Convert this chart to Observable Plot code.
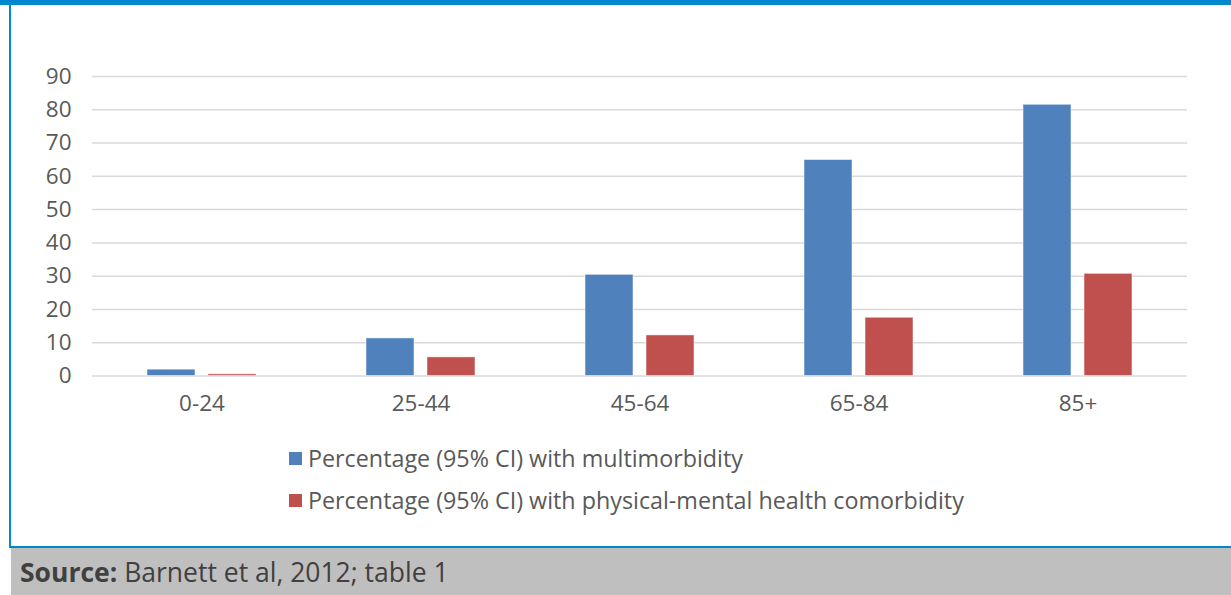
<!DOCTYPE html>
<html>
<head>
<meta charset="utf-8">
<script src="https://cdn.jsdelivr.net/npm/d3@7"></script>
<script src="https://cdn.jsdelivr.net/npm/@observablehq/plot@0.6"></script>
<style>
  html, body { margin: 0; padding: 0; background: #fff; }
  #wrap { position: relative; width: 1231px; height: 595px; overflow: hidden; font-family: "Open Sans", sans-serif; }
  #topbar { position: absolute; left: 0; top: 0; width: 1231px; height: 5px; background: #0088CE; }
  #leftline { position: absolute; left: 9px; top: 5px; width: 2px; height: 542px; background: #0088CE; }
  #botline { position: absolute; left: 9px; top: 546px; width: 1222px; height: 2px; background: #0088CE; }
  #source { position: absolute; left: 11px; top: 548px; width: 1220px; height: 47px; background: #BFBFBF; color: #404040; font-size: 26.5px; line-height: 49px; padding-left: 9px; box-sizing: border-box; white-space: nowrap; }
  #chart { position: absolute; left: 0; top: 0; }
  .legend { position: absolute; left: 289px; font-size: 23.3px; color: #595959; display: flex; align-items: center; white-space: nowrap; }
  .legend span.sw { display: inline-block; width: 13px; height: 13px; margin-right: 6px; }
</style>
</head>
<body>
<div id="wrap">
  <div id="topbar"></div>
  <div id="leftline"></div>
  <div id="chart"></div>
  <div id="legend"></div>
  <div id="botline"></div>
  <div id="source"><b>Source:</b> Barnett et al, 2012; table 1</div>
</div>
<script>
const ageGroups = ["0-24", "25-44", "45-64", "65-84", "85+"];
const seriesNames = [
  "Percentage (95% CI) with multimorbidity",
  "Percentage (95% CI) with physical-mental health comorbidity"
];
const multimorbidity = [1.9, 11.3, 30.4, 64.9, 81.5];
const physicalMental = [0.5, 5.6, 12.2, 17.5, 30.7];
const yTicks = [0, 10, 20, 30, 40, 50, 60, 70, 80, 90];
const colors = ["#4F81BD", "#C0504D"];

const data = [];
ageGroups.forEach((a, i) => {
  data.push({age: a, series: seriesNames[0], value: multimorbidity[i]});
  data.push({age: a, series: seriesNames[1], value: physicalMental[i]});
});

const chart = Plot.plot({
  width: 1231,
  height: 420,
  marginLeft: 91,
  marginRight: 43,
  marginTop: 76,
  marginBottom: 44.5,
  style: {fontFamily: "'Open Sans', sans-serif", fontSize: "22.5px", color: "#595959", background: "transparent"},
  fx: {domain: ageGroups, paddingInner: 0, paddingOuter: 0, label: null, axis: "bottom", tickSize: 0, tickPadding: 19},
  x: {domain: seriesNames, axis: null, paddingInner: 0.21, paddingOuter: 0.874},
  y: {domain: [0, 90], ticks: yTicks, label: null, tickSize: 0, tickPadding: 21, tickFormat: d => String(d)},
  color: {domain: seriesNames, range: colors},
  marks: [
    Plot.ruleY(yTicks, {stroke: "#D9D9D9", strokeWidth: 1.5}),
    Plot.barY(data, {fx: "age", x: "series", y: "value", fill: "series", stroke: "#ffffff", strokeOpacity: 0.5, strokeWidth: 1})
  ]
});
document.getElementById("chart").appendChild(chart);

const legend = document.getElementById("legend");
seriesNames.forEach((s, i) => {
  const d = document.createElement("div");
  d.className = "legend";
  d.style.top = (i === 0 ? 444 : 486) + "px";
  d.style.height = "28px";
  d.innerHTML = `<span class="sw" style="background:${colors[i]}"></span>${s}`;
  legend.appendChild(d);
});
</script>
</body>
</html>
